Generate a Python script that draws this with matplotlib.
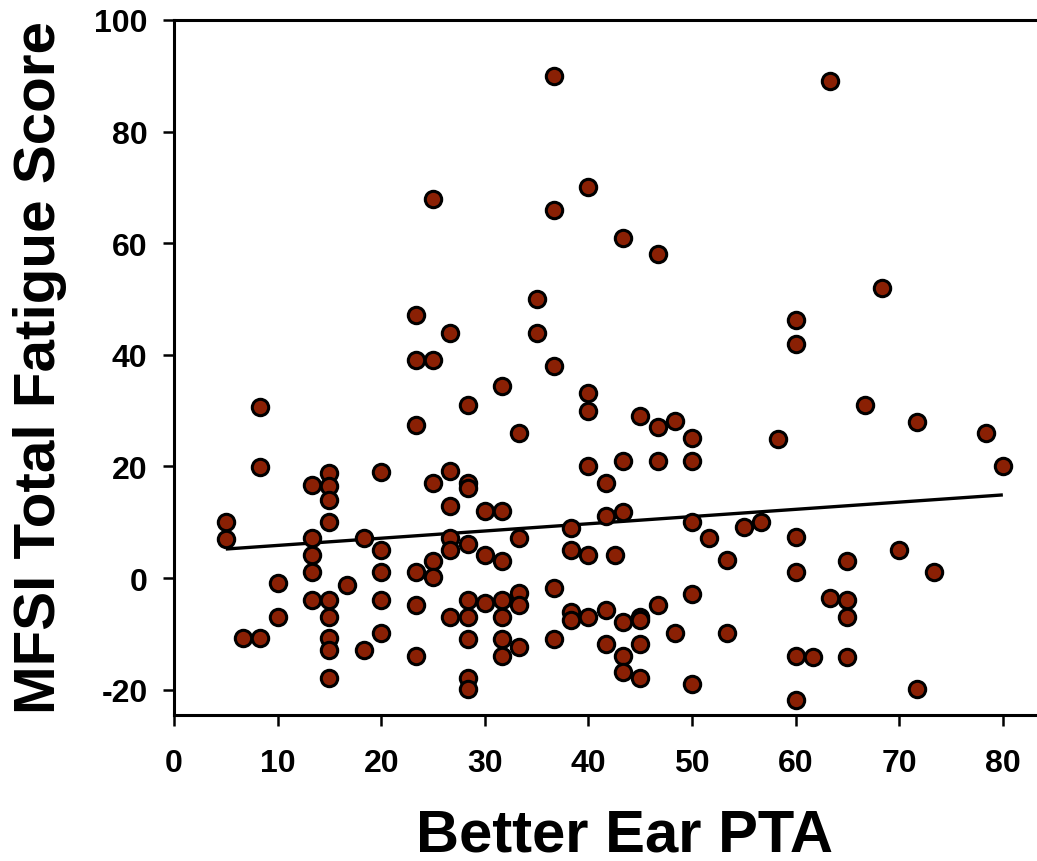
import matplotlib
matplotlib.use("Agg")
import matplotlib.pyplot as plt
import numpy as np

plt.rcParams['font.family'] = ['Liberation Sans', 'DejaVu Sans']
plt.rcParams['font.weight'] = 'bold'

# Better Ear PTA values (x) and MFSI total fatigue scores (y)
pta = [
    5, 5,
    6.67,
    8.33, 8.33, 8.33,
    10, 10,
    13.33, 13.33, 13.33, 13.33, 13.33,
    15, 15, 15, 15, 15, 15, 15, 15, 15,
    16.67,
    18.33, 18.33,
    20, 20, 20, 20, 20,
    23.33, 23.33, 23.33, 23.33, 23.33, 23.33,
    25, 25, 25, 25, 25,
    26.67, 26.67, 26.67, 26.67, 26.67, 26.67,
    28.33, 28.33, 28.33, 28.33, 28.33, 28.33, 28.33, 28.33, 28.33,
    30, 30, 30,
    31.67, 31.67, 31.67, 31.67, 31.67, 31.67, 31.67,
    33.33, 33.33, 33.33, 33.33, 33.33,
    35, 35,
    36.67, 36.67, 36.67, 36.67, 36.67,
    38.33, 38.33, 38.33, 38.33,
    40, 40, 40, 40, 40, 40,
    41.67, 41.67, 41.67, 41.67,
    42.6,
    43.33, 43.33, 43.33, 43.33, 43.33, 43.33,
    45, 45, 45, 45, 45,
    46.67, 46.67, 46.67, 46.67,
    48.33, 48.33,
    50, 50, 50, 50, 50,
    51.67,
    53.33, 53.33,
    55,
    56.67,
    58.33,
    60, 60, 60, 60, 60, 60,
    61.67,
    63.33, 63.33,
    65, 65, 65, 65,
    66.67,
    68.33,
    70,
    71.67, 71.67,
    73.33,
    78.33,
    80,
]
fatigue = [
    10.1, 7.0,
    -10.8,
    30.7, 19.9, -10.8,
    -0.9, -6.9,
    16.7, 7.2, 4.1, 1.1, -3.9,
    18.9, 16.5, 14.0, 10.1, -3.9, -6.9, -10.8, -12.9, -17.9,
    -1.3,
    7.1, -12.9,
    19.0, 5.0, 1.1, -3.9, -9.9,
    47.1, 39.0, 27.5, 1.0, -4.8, -13.9,
    68.0, 39.0, 17.1, 3.1, 0.1,
    44.0, 19.1, 12.9, 7.1, 5.1, -6.9,
    31.0, 17.0, 16.1, 6.1, -3.9, -6.9, -10.9, -17.9, -19.9,
    12.1, 4.1, -4.5,
    34.4, 12.1, 3.1, -3.9, -6.9, -10.9, -13.9,
    26.0, 7.1, -2.6, -4.8, -12.4,
    50.0, 44.0,
    90.0, 66.0, 38.0, -1.7, -10.9,
    8.9, 5.1, -6.1, -7.5,
    70.0, 33.1, 29.9, 20.1, 4.1, -6.9,
    17.1, 11.2, -5.7, -11.9,
    4.1,
    61.0, 21.0, 11.8, -7.9, -13.9, -16.9,
    29.1, -6.9, -7.6, -11.9, -17.9,
    58.0, 27.1, 21.0, -4.8,
    28.1, -9.9,
    25.1, 21.0, 10.1, -2.9, -18.9,
    7.1,
    3.3, -9.9,
    9.1,
    10.1,
    25.0,
    46.2, 42.0, 7.3, 1.1, -13.9, -21.9,
    -14.2,
    89.0, -3.6,
    3.1, -3.9, -6.9, -14.2,
    31.0,
    52.0,
    5.1,
    28.0, -19.9,
    1.1,
    26.0,
    20.1,
]

# Fitted trend line endpoints as shown in the chart
trend_x = [5, 80]
trend_y = [5.2, 14.9]

x_ticks = [0, 10, 20, 30, 40, 50, 60, 70, 80]
y_ticks = [-20, 0, 20, 40, 60, 80, 100]

fig = plt.figure(figsize=(10.37, 8.62), dpi=100)
ax = fig.add_axes([174/1037, 1 - 716/862, (1036 - 174)/1037, (716 - 21)/862])

ax.plot(trend_x, trend_y, color='black', lw=2.4, zorder=2, solid_capstyle='butt')
ax.plot(pta, fatigue, linestyle='none', marker='o', markersize=11.8,
        markerfacecolor='#8A2004', markeredgecolor='black', markeredgewidth=2.2,
        zorder=3, clip_on=False)

ax.set_xlim(0, 83.2)
ax.set_ylim(-24.54, 100)
ax.set_xticks(x_ticks)
ax.set_yticks(y_ticks)
ax.set_xticklabels([str(v) for v in x_ticks])
ax.set_yticklabels([str(v) for v in y_ticks])

for s in ['left', 'bottom', 'top']:
    ax.spines[s].set_linewidth(2.2)
ax.spines['right'].set_visible(False)

ax.tick_params(axis='both', direction='out', width=1.8, labelsize=23)
ax.tick_params(axis='x', length=8, pad=16)
ax.tick_params(axis='y', length=8, pad=11)
for lab in ax.get_xticklabels() + ax.get_yticklabels():
    lab.set_fontweight('bold')

fig.text(40/1037, 1 - 368/862, 'MFSI Total Fatigue Score', rotation=90,
         ha='center', va='center', fontsize=42, fontweight='bold')
fig.text(625/1037, 1 - 836/862, 'Better Ear PTA',
         ha='center', va='center', fontsize=43, fontweight='bold')

fig.savefig('out.png', dpi=100)
